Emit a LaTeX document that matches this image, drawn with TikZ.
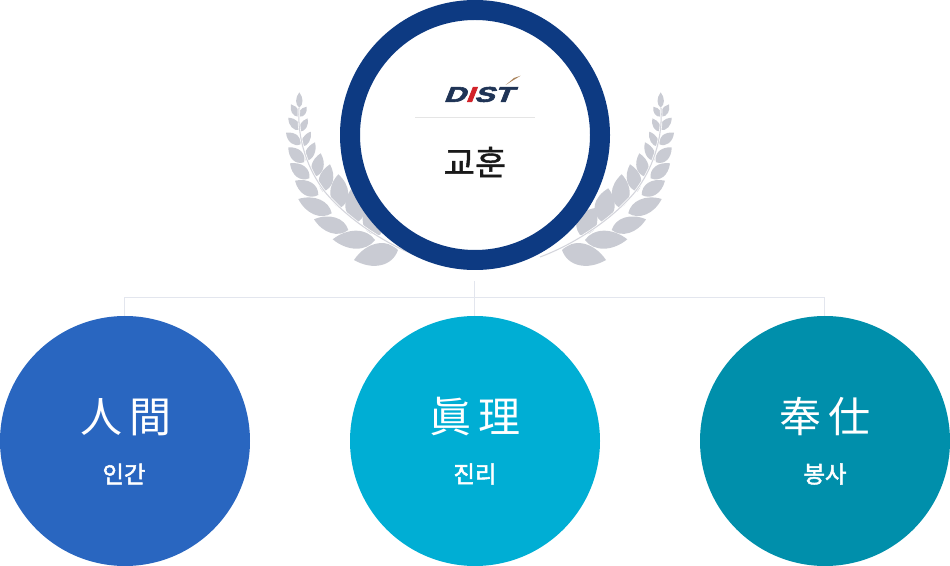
\documentclass[tikz,border=0pt]{standalone}
\usepackage{fontspec}
\setmainfont{Liberation Sans}
\newfontfamily\krfont{Noto Sans CJK KR}
\newfontfamily\krmedium[FakeBold=2.2]{Noto Sans CJK KR}
\newfontfamily\krtitle[FakeBold=1.2]{Noto Sans CJK KR}
\newfontfamily\logofont[UprightFeatures={FakeSlant=0.28},BoldFeatures={FakeSlant=0.28,FakeBold=2.5}]{Liberation Sans}
\usetikzlibrary{calc}
\definecolor{ringnavy}{HTML}{0D3A82}
\definecolor{humanblue}{HTML}{2966C0}
\definecolor{truthcyan}{HTML}{00AED4}
\definecolor{serviceteal}{HTML}{008FAB}
\definecolor{leafgrey}{HTML}{C9CBD3}
\definecolor{branchgrey}{HTML}{E3E6EE}
\definecolor{logonavy}{HTML}{1F3456}
\definecolor{logored}{HTML}{D2232A}
\definecolor{logobrown}{HTML}{A9825A}
\tikzset{
	virtue/.style={circle, minimum size=187.5pt, inner sep=0pt, outer sep=0pt},
	branchline/.style={draw=branchgrey, line width=0.75pt},
	hanja/.style={text=white, inner sep=0pt, font=\krfont\fontsize{31.5}{31.5}\selectfont},
	hangul/.style={text=white, inner sep=0pt, font=\krmedium\fontsize{17.5}{17.5}\selectfont},
}
\def\laurelleaf(#1)(#2)(#3:#4){\fill[leafgrey] (#1) .. controls ($(#1)!0.2!(#2)!#3pt!90:(#2)$) and ($(#1)!0.65!(#2)!#3pt!90:(#2)$) .. (#2) .. controls ($(#2)!0.35!(#1)!#4pt!90:(#1)$) and ($(#2)!0.8!(#1)!#4pt!90:(#1)$) .. (#1);}
\def\laurel{
	\laurelleaf(299.3, 107.7)(299.3, 92.3)(3.2:3.2);
	\laurelleaf(298.3, 116.7)(291, 104.3)(3.5:3.5);
	\laurelleaf(299.3, 116.7)(306.7, 106.7)(3.2:3.2);
	\laurelleaf(300, 130)(288.3, 117.7)(4.2:4.2);
	\laurelleaf(300, 131.7)(307.7, 118.3)(3.5:3.5);
	\laurelleaf(300.7, 144.3)(286, 132.7)(5:5);
	\laurelleaf(302, 146.7)(310.7, 131.7)(3.8:3.8);
	\laurelleaf(304, 162.3)(288.3, 147.3)(6:6);
	\laurelleaf(306, 161)(315, 142.3)(4.5:4.5);
	\laurelleaf(309.3, 178.3)(290, 163.3)(6.5:6.5);
	\laurelleaf(315, 176.7)(320.7, 153.3)(6:6);
	\laurelleaf(318.3, 195)(295, 180.7)(7:7);
	\laurelleaf(322.7, 191.7)(330, 164.3)(7:7);
	\laurelleaf(331.7, 213.3)(298.3, 199)(8:8);
	\laurelleaf(340, 208.3)(338.3, 174.3)(9:9);
	\laurelleaf(348.3, 230)(314, 219.3)(8:8);
	\laurelleaf(358.3, 221.7)(351.7, 188.3)(10:10);
	\laurelleaf(375, 240)(332.7, 239.3)(9:9);
	\laurelleaf(380, 235)(365, 208)(10:10);
	\laurelleaf(398, 250)(354, 260)(11:11);
	\draw[white, line width=1.8pt] (420, 257) .. controls (390, 246) and (350, 222) .. (325, 192) .. controls (308, 170) and (297, 140) .. (299, 108);
	\draw[leafgrey!80, line width=0.8pt] (420, 257) .. controls (390, 246) and (350, 222) .. (325, 192) .. controls (308, 170) and (297, 140) .. (299, 108);
}

\begin{document}
\begin{tikzpicture}[x=0.75pt, y=-0.75pt]
	%%%%% START %%%%%
	\useasboundingbox (0, 0) rectangle (950, 566);

	\laurel
	\begin{scope}[xshift=720pt, xscale=-1]
		\laurel
	\end{scope}

	\node[virtue, minimum size=187.5pt, draw=ringnavy, fill=white, line width=15pt] (motto) at (475, 135) {};
	\node[virtue, fill=humanblue] (human) at (125, 441) {};
	\node[virtue, fill=truthcyan] (truth) at (475, 441) {};
	\node[virtue, fill=serviceteal] (service) at (825, 441) {};

	\coordinate (trunk) at (474.5, 281);
	\coordinate (fork) at (474.5, 297.5);
	\draw[branchline] (trunk) -- (fork |- truth.north);
	\draw[branchline] ([xshift=-0.5pt]human.north) |- (fork) -| ([xshift=-0.5pt]service.north);

	\coordinate (ruleleft) at (415, 117.5);
	\coordinate (ruleright) at (535, 117.5);
	\draw[draw=black!10, line width=0.75pt] (ruleleft) -- (ruleright);

	\node[inner sep=0pt, text=logonavy, font=\logofont\bfseries\fontsize{16}{16}\selectfont] (logo) at (478, 94.5) {\scalebox{1.42}[1]{D\textcolor{logored}{I}ST}};
	\fill[logobrown] (505.7, 85) -- (514, 78) -- (520.7, 75.7) -- (512, 81) -- cycle;

	\node[inner sep=0pt, text=black!90, font=\krtitle\fontsize{25.5}{25.5}\selectfont] (mottolabel) at (475, 162) {교훈};

	\node[hanja] (humanhanja) at (126, 417) {人\hspace{5.5pt}間};
	\node[hangul] (humanlabel) at (124, 474) {인간};
	\node[hanja] (truthhanja) at (475, 417) {眞\hspace{5.5pt}理};
	\node[hangul] (truthlabel) at (475, 474) {진리};
	\node[hanja] (servicehanja) at (825, 417) {奉\hspace{5.5pt}仕};
	\node[hangul] (servicelabel) at (825, 474) {봉사};
	%%%%% END %%%%%
\end{tikzpicture}
\end{document}
